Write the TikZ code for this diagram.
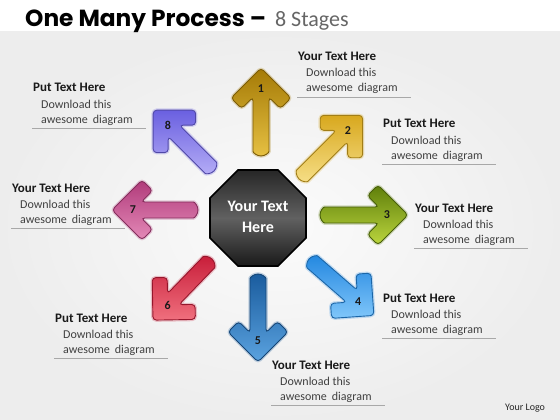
\documentclass[tikz,border=0pt]{standalone}
\usepackage{fontspec}
\setmainfont{Carlito}
\newfontfamily\titlefont{Poppins}
\usetikzlibrary{shapes.geometric}
\definecolor{goldA}{HTML}{A47A06}\definecolor{goldAl}{HTML}{E6C042}
\definecolor{goldB}{HTML}{D8A81E}\definecolor{goldBl}{HTML}{F6DE86}
\definecolor{grn}{HTML}{5E7E0A}\definecolor{grnl}{HTML}{BCD63E}
\definecolor{bluA}{HTML}{2488E0}\definecolor{bluAl}{HTML}{80C6FA}
\definecolor{bluB}{HTML}{1A5C9E}\definecolor{bluBl}{HTML}{5BA3E0}
\definecolor{rd}{HTML}{C81E3A}\definecolor{rdl}{HTML}{F0707E}
\definecolor{pnk}{HTML}{B03A7A}\definecolor{pnkl}{HTML}{E48AB8}
\definecolor{prp}{HTML}{6A60E0}\definecolor{prpl}{HTML}{B4ACF6}
\definecolor{txtgray}{HTML}{404040}
\definecolor{rulegray}{HTML}{A8A8A8}
\newcommand{\myarrow}[7]{%
  \begin{scope}[shift={#2}, rotate=#3]
    \path[arrowbody, draw=#5, draw opacity=0.25, line width=3.5pt]
      (#4-29.2,8) -- (#4-40.6,19.4) -- (#4-30,30) -- (#4,0) -- (#4-30,-30)
      -- (#4-40.6,-19.4) -- (#4-29.2,-8) -- (8,-8)
      arc[start angle=-90, end angle=-270, radius=8] -- cycle;
    \path[arrowbody, draw=#5!75!black, top color=#5, bottom color=#6]
      (#4-29.2,8) -- (#4-40.6,19.4) -- (#4-30,30) -- (#4,0) -- (#4-30,-30)
      -- (#4-40.6,-19.4) -- (#4-29.2,-8) -- (8,-8)
      arc[start angle=-90, end angle=-270, radius=8] -- cycle;
    \node[numlabel] (#1) at (#4-21,0) {#7};
  \end{scope}}
\newcommand{\textblock}[4]{% name, x, y (title baseline), title
  \node[blocktitle] (#1t) at (#2,#3) {#4};
  \node[blockbody] (#1a) at (#2+8,#3+16) {Download this};
  \node[blockbody] (#1b) at (#2+8,#3+31) {awesome\hspace{5pt}diagram};
  \draw[blockrule] (#2-1,#3+36) -- (#2+113,#3+36);}
\begin{document}
\begin{tikzpicture}[x=1pt,y=-1pt,
  arrowbody/.style={rounded corners=3.5, line width=0.9pt},
  numlabel/.style={font=\fontsize{12}{14}\selectfont\bfseries, text=black!90, inner sep=0pt},
  blocktitle/.style={anchor=base west, inner sep=0pt, font=\fontsize{13}{15}\selectfont\bfseries, text=black!90},
  blockbody/.style={anchor=base west, inner sep=0pt, font=\fontsize{12}{14}\selectfont, text=txtgray},
  blockrule/.style={draw=rulegray, line width=0.8pt}]
\useasboundingbox (0,0) rectangle (560,420);
\fill[white] (0,0) rectangle (560,32);
\path[inner color=gray!3, outer color=gray!14] (0,32) rectangle (560,420);
% title
\node[anchor=base west, inner sep=0pt] (title) at (25,27)
  {{\titlefont\bfseries\fontsize{23.3}{26}\selectfont One Many Process –}\hspace{9pt}{\fontsize{22}{25}\selectfont\color{black!60}8 Stages}};
% hub
\node[regular polygon, regular polygon sides=8,
  minimum size=104pt, inner sep=0pt, draw=black, line width=1.6pt,
  top color=black!85, bottom color=black!90, middle color=black!62] (hub) at (258,218) {};
\node[align=center, text=white, font=\fontsize{16}{21}\selectfont\bfseries] (hubtext) at (258,217) {Your Text\\Here};
% arrows
\myarrow{n1}{(261,156)}{90}{88}{goldA}{goldAl}{1}
\myarrow{n2}{(299,179)}{45}{90}{goldB}{goldBl}{2}
\myarrow{n3}{(320,215)}{0}{88}{grn}{grnl}{3}
\myarrow{n4}{(309,259)}{-41}{86}{bluA}{bluAl}{4}
\myarrow{n5}{(258,274)}{-90}{88}{bluB}{bluBl}{5}
\myarrow{n6}{(212,259)}{-134}{85}{rd}{rdl}{6}
\myarrow{n7}{(198,210)}{180}{86}{pnk}{pnkl}{7}
\myarrow{n8}{(214,171)}{135}{86}{prp}{prpl}{8}
% text blocks
\textblock{b1}{298}{61}{Your Text Here}
\textblock{b2}{383}{128}{Put Text Here}
\textblock{b3}{415}{212}{Your Text Here}
\textblock{b4}{383}{302}{Put Text Here}
\textblock{b5}{272}{369}{Your Text Here}
\textblock{b6}{55}{322}{Put Text Here}
\textblock{b7}{12}{192}{Your Text Here}
\textblock{b8}{33}{92}{Put Text Here}
\node[anchor=base west, inner sep=0pt, font=\fontsize{10}{12}\selectfont, text=black!85] (logo) at (505,410) {Your Logo};
\end{tikzpicture}
\end{document}
